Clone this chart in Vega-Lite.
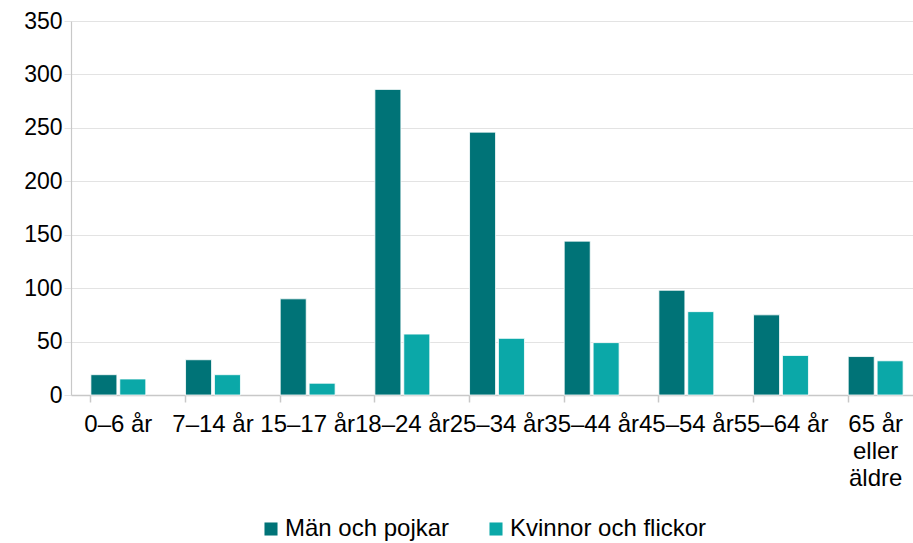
{
  "$schema": "https://vega.github.io/schema/vega-lite/v6.json",
  "autosize": {"type": "none"},
  "padding": {"left": 71, "top": 21, "right": 0, "bottom": 148},
  "width": 842,
  "height": 374,
  "background": "white",
  "config": {
    "font": "Liberation Sans",
    "view": {"stroke": null}
  },
  "data": {
    "values": [
      {"age": "0–6 år", "sex": "Män och pojkar", "value": 19},
      {"age": "0–6 år", "sex": "Kvinnor och flickor", "value": 15},
      {"age": "7–14 år", "sex": "Män och pojkar", "value": 33},
      {"age": "7–14 år", "sex": "Kvinnor och flickor", "value": 19},
      {"age": "15–17 år", "sex": "Män och pojkar", "value": 90},
      {"age": "15–17 år", "sex": "Kvinnor och flickor", "value": 11},
      {"age": "18–24 år", "sex": "Män och pojkar", "value": 286},
      {"age": "18–24 år", "sex": "Kvinnor och flickor", "value": 57},
      {"age": "25–34 år", "sex": "Män och pojkar", "value": 246},
      {"age": "25–34 år", "sex": "Kvinnor och flickor", "value": 53},
      {"age": "35–44 år", "sex": "Män och pojkar", "value": 144},
      {"age": "35–44 år", "sex": "Kvinnor och flickor", "value": 49},
      {"age": "45–54 år", "sex": "Män och pojkar", "value": 98},
      {"age": "45–54 år", "sex": "Kvinnor och flickor", "value": 78},
      {"age": "55–64 år", "sex": "Män och pojkar", "value": 75},
      {"age": "55–64 år", "sex": "Kvinnor och flickor", "value": 37},
      {"age": "65 år eller äldre", "sex": "Män och pojkar", "value": 36},
      {"age": "65 år eller äldre", "sex": "Kvinnor och flickor", "value": 32}
    ]
  },
  "mark": {"type": "bar", "stroke": "white", "strokeWidth": 0.8},
  "encoding": {
    "x": {
      "field": "age",
      "type": "nominal",
      "sort": null,
      "scale": {"paddingInner": 0.42, "paddingOuter": 0.21, "range": [0, 852]},
      "axis": {
        "title": null,
        "labelAngle": 0,
        "labelFontSize": 24,
        "labelColor": "#000000",
        "labelOverlap": false,
        "labelPadding": 10,
        "labelLineHeight": 27,
        "labelLimit": 0,
        "bandPosition": 0,
        "tickSize": 7,
        "tickColor": "#c8c8c8",
        "domainColor": "#c8c8c8",
        "domainWidth": 1.5,
        "tickWidth": 1.5,
        "labelExpr": "datum.value == '65 år eller äldre' ? ['65 år', 'eller', 'äldre'] : datum.value"
      }
    },
    "xOffset": {
      "field": "sex",
      "type": "nominal",
      "sort": ["Män och pojkar", "Kvinnor och flickor"],
      "scale": {"paddingInner": 0.1}
    },
    "y": {
      "field": "value",
      "type": "quantitative",
      "scale": {"domain": [0, 350], "nice": false},
      "axis": {
        "title": null,
        "values": [0, 50, 100, 150, 200, 250, 300, 350],
        "labelFontSize": 23,
        "labelColor": "#000000",
        "labelPadding": 2,
        "tickSize": 7,
        "tickColor": "#e3e3e3",
        "gridColor": "#e3e3e3",
        "gridWidth": 1.2,
        "domainColor": "#c8c8c8",
        "domainWidth": 1.2
      }
    },
    "color": {
      "field": "sex",
      "type": "nominal",
      "sort": ["Män och pojkar", "Kvinnor och flickor"],
      "scale": {"domain": ["Män och pojkar", "Kvinnor och flickor"], "range": ["#007377", "#0BA8A8"]},
      "legend": {
        "title": null,
        "orient": "none",
        "legendX": 188,
        "legendY": 496,
        "direction": "horizontal",
        "symbolType": "square",
        "symbolSize": 170,
        "symbolStrokeWidth": 0,
        "labelFontSize": 24,
        "labelLimit": 0,
        "labelColor": "#000000",
        "labelOffset": 2,
        "columnPadding": 34
      }
    }
  }
}
